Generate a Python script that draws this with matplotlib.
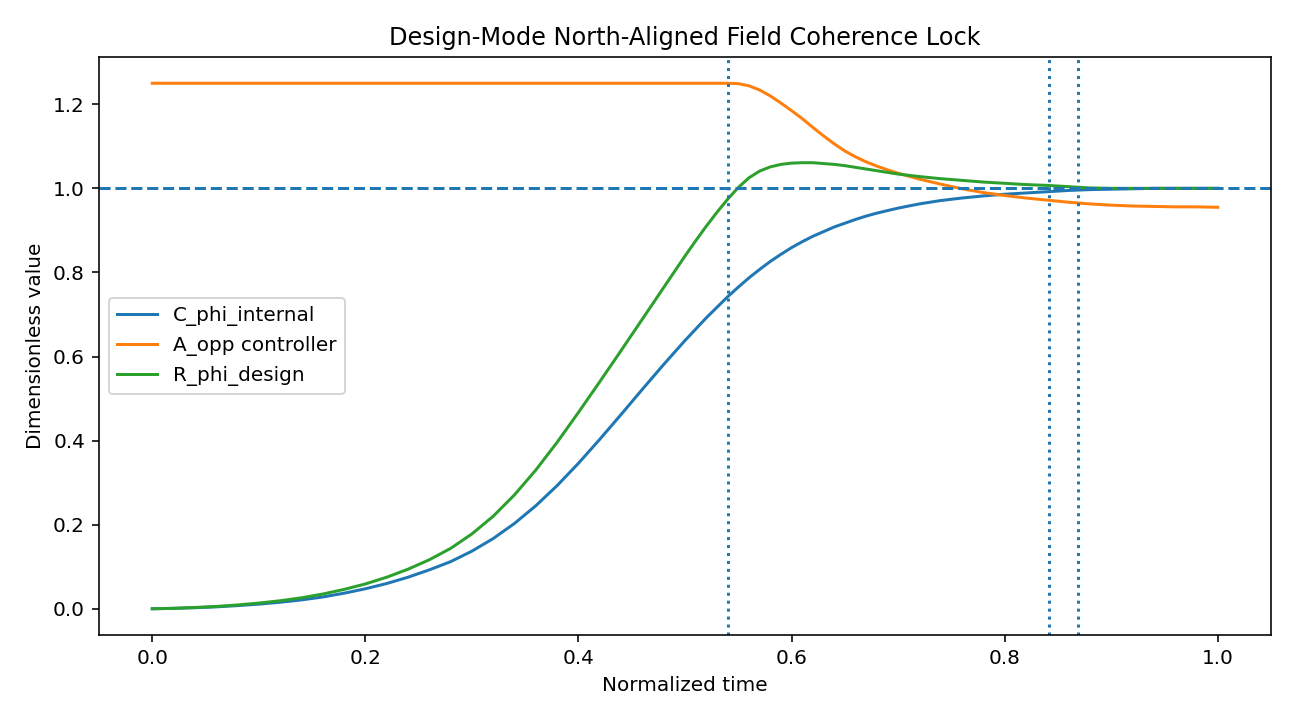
import matplotlib
matplotlib.use('Agg')
import matplotlib.pyplot as plt

# ── Data ───────────────────────────────────────────────────────────────────
# denser sampling where the curves bend sharply (0.50 - 0.70)
t = [0.00, 0.02, 0.04, 0.06, 0.08, 0.10, 0.12, 0.14, 0.16, 0.18,
     0.20, 0.22, 0.24, 0.26, 0.28, 0.30, 0.32, 0.34, 0.36, 0.38,
     0.40, 0.42, 0.44, 0.46, 0.48, 0.50,
     0.51, 0.52, 0.53, 0.54, 0.55, 0.56, 0.57, 0.58, 0.59, 0.60,
     0.61, 0.62, 0.63, 0.64, 0.65, 0.66, 0.67, 0.68, 0.69, 0.70,
     0.72, 0.74, 0.76, 0.78, 0.80, 0.82, 0.84, 0.86, 0.88, 0.90,
     0.92, 0.94, 0.96, 0.98, 1.00]

c_phi_internal = [0.000, 0.001, 0.0025, 0.0045, 0.0075, 0.011, 0.0155, 0.021, 0.028, 0.037,
                  0.0475, 0.060, 0.075, 0.0925, 0.112, 0.137, 0.167, 0.203, 0.245, 0.293,
                  0.346, 0.403, 0.462, 0.522, 0.581, 0.638,
                  0.665, 0.692, 0.717, 0.742, 0.765, 0.787, 0.807, 0.826, 0.843, 0.859,
                  0.873, 0.886, 0.897, 0.908, 0.917, 0.926, 0.934, 0.941, 0.947, 0.953,
                  0.963, 0.971, 0.977, 0.982, 0.986, 0.989, 0.992, 0.995, 0.997, 0.998,
                  0.999, 1.000, 1.000, 1.000, 1.000]

a_opp = [1.25, 1.25, 1.25, 1.25, 1.25, 1.25, 1.25, 1.25, 1.25, 1.25,
         1.25, 1.25, 1.25, 1.25, 1.25, 1.25, 1.25, 1.25, 1.25, 1.25,
         1.25, 1.25, 1.25, 1.25, 1.25, 1.25,
         1.25, 1.25, 1.25, 1.25, 1.249, 1.244, 1.234, 1.220, 1.203, 1.185,
         1.166, 1.145, 1.125, 1.106, 1.089, 1.075, 1.063, 1.053, 1.044, 1.036,
         1.022, 1.010, 0.999, 0.990, 0.983, 0.977, 0.972, 0.967, 0.963, 0.960,
         0.958, 0.957, 0.956, 0.956, 0.955]

r_phi_design = [0.000, 0.001, 0.003, 0.0055, 0.009, 0.0135, 0.019, 0.026, 0.035, 0.046,
                0.059, 0.075, 0.094, 0.1165, 0.1435, 0.178, 0.220, 0.271, 0.330, 0.396,
                0.467, 0.540, 0.614, 0.689, 0.764, 0.839,
                0.875, 0.910, 0.943, 0.974, 1.002, 1.025, 1.041, 1.051, 1.057, 1.060,
                1.061, 1.061, 1.059, 1.057, 1.054, 1.050, 1.046, 1.042, 1.038, 1.034,
                1.028, 1.023, 1.019, 1.015, 1.012, 1.009, 1.007, 1.004, 1.001, 1.000,
                1.000, 1.000, 1.000, 1.000, 1.000]

target_level = 1.0
event_times = [0.540, 0.842, 0.869]

# ── Plot ───────────────────────────────────────────────────────────────────
DPI = 144
fig, ax = plt.subplots(figsize=(1289 / DPI, 714 / DPI), dpi=DPI)
fig.subplots_adjust(left=0.0768, right=0.986, bottom=0.1106, top=0.9202)

ax.plot(t, c_phi_internal, label='C_phi_internal')
ax.plot(t, a_opp, label='A_opp controller')
ax.plot(t, r_phi_design, label='R_phi_design')

ax.axhline(target_level, linestyle='--')
for te in event_times:
    ax.axvline(te, linestyle=':')

ax.set_xlabel('Normalized time')
ax.set_ylabel('Dimensionless value')
ax.set_title('Design-Mode North-Aligned Field Coherence Lock')
ax.legend(loc='center left')

fig.savefig('out.png', dpi=DPI)
